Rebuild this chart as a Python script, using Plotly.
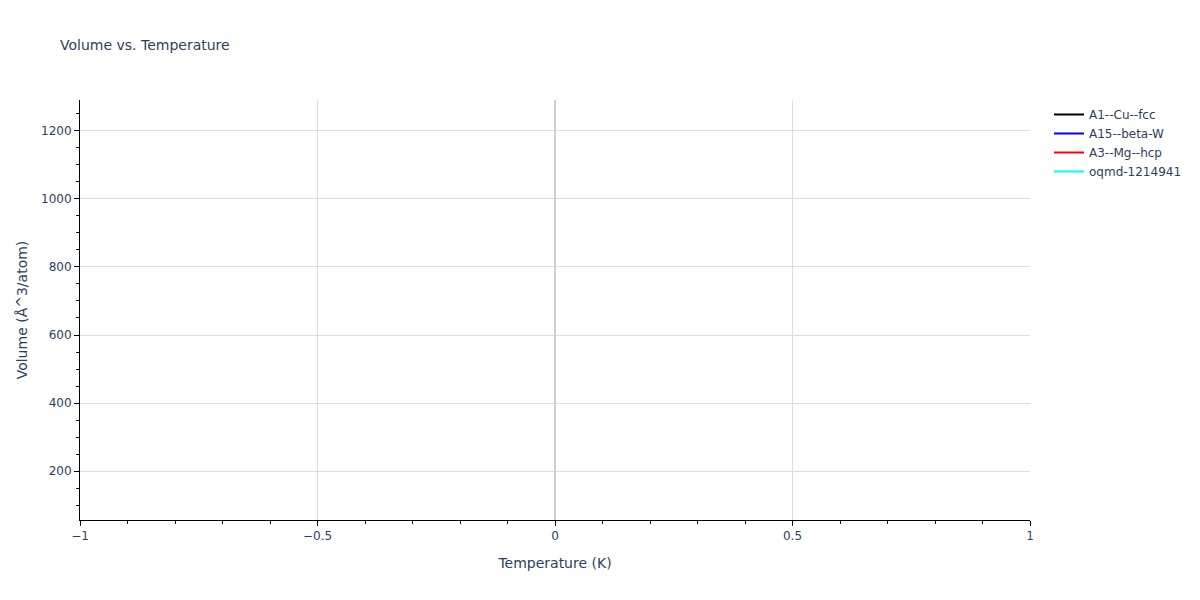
import plotly.graph_objects as go

# series names; no points are visible in the chart, so the data are empty (null)
names = ['A1--Cu--fcc', 'A15--beta-W', 'A3--Mg--hcp', 'oqmd-1214941']
colors = ['black', 'blue', 'red', 'cyan']
temperatures = {n: [None] for n in names}
volumes = {n: [None] for n in names}

fig = go.Figure()
for name, color in zip(names, colors):
    fig.add_trace(go.Scatter(x=temperatures[name], y=volumes[name], mode='lines',
                             name=name, line=dict(color=color, width=2),
                             showlegend=True))

axis_style = dict(
    showline=True, linecolor='black', linewidth=1,
    ticks='outside', tickcolor='black', ticklen=5,
    showgrid=True, gridcolor='#dddddd', gridwidth=1,
    minor=dict(ticks='outside', ticklen=3, tickcolor='black', showgrid=False),
    mirror=False, automargin=False,
)

# page has an 8px body margin, so size/margins are trimmed to line up
fig.update_layout(
    template='plotly_white',
    width=1192, height=592,
    font=dict(family='Verdana, DejaVu Sans, sans-serif', size=12, color='#2a3f5f'),
    title=dict(text='Volume vs. Temperature', x=0.0436, y=0.9375, yanchor='middle',
               font=dict(size=14)),
    margin=dict(l=72, r=170, t=92, b=80),
    xaxis=dict(title='Temperature (K)', range=[-1, 1], dtick=0.5,
               zeroline=True, zerolinecolor='#d0d0d0', zerolinewidth=2,
               **axis_style),
    yaxis=dict(title=dict(text='Volume (Å^3/atom)', standoff=10), range=[56, 1291],
               dtick=200, zeroline=False, **axis_style),
    legend=dict(x=1.02, y=1),
)
fig.update_xaxes(minor_dtick=0.1)
fig.update_yaxes(minor_dtick=50)

fig.write_html("out.html")
